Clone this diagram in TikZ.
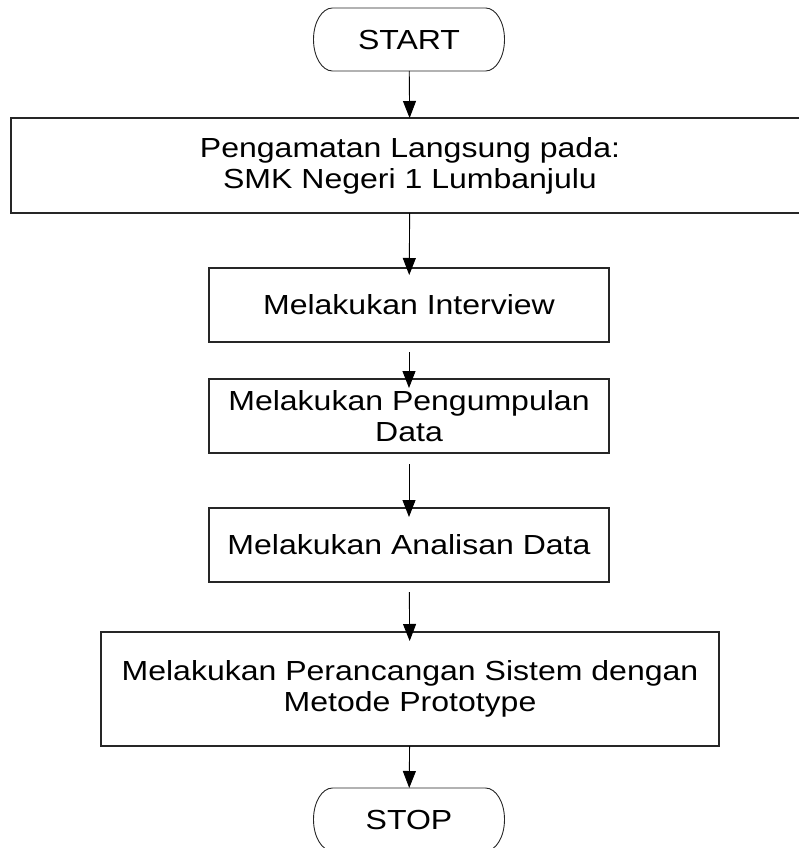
\documentclass[tikz,border=0pt]{standalone}
\usepackage{fontspec}
\setmainfont[FakeStretch=1.16]{Liberation Sans}
\usepackage{tikz}
\usetikzlibrary{arrows.meta}
\usetikzlibrary{calc}
\usetikzlibrary{math}

\begin{document}
\begin{tikzpicture}[x=1pt,y=-1pt,line width=1.2pt,
    box/.style={draw=black!85, rectangle, inner sep=0pt, outer sep=0pt,
      minimum height=74pt, minimum width=400pt, align=center},
    terminal/.style={rectangle, inner sep=0pt, outer sep=0pt,
      minimum width=191pt, minimum height=63pt},
    flow/.style={-{Triangle[length=17pt,width=13pt]}, line width=0.9pt},
    font=\fontsize{27.6}{31}\selectfont]

  \tikzmath{
    \flowx    = 409;   % axis of the flow
    \observew = 798;   % width first box
    \designw  = 618;   % width last box
    \capx     = 19;    % horizontal radius of the terminal ends
    \capy     = 31.5;  % vertical radius of the terminal ends
  }

  \useasboundingbox (0,0) rectangle (799,848);

  % terminals
  \node[terminal] (start) at (\flowx, 39.5) {START};
  \node[terminal] (stop)  at (\flowx, 819.5) {STOP};

  % outline of the terminals, half ellipses at the ends
  \foreach \t in {start,stop}
    \draw[draw=black!85, line width=0.9pt]
      ($ (\t.north west) + (\capx, 0) $) -- ($ (\t.north east) + (-\capx, 0) $)
      arc[start angle=-90, end angle=90, x radius=\capx, y radius=\capy]
      -- ($ (\t.south west) + (\capx, 0) $)
      arc[start angle=90, end angle=270, x radius=\capx, y radius=\capy]
      -- cycle;

  % process boxes
  \node[box, minimum width=\observew, minimum height=95pt] (observe) at (410, 165.5)
    {Pengamatan Langsung pada:\\SMK Negeri 1 Lumbanjulu};
  \node[box] (interview) at (\flowx, 305) {Melakukan Interview};
  \node[box] (collect)   at (\flowx, 416) {Melakukan Pengumpulan\\Data};
  \node[box] (analyse)   at (\flowx, 545) {Melakukan Analisan Data};
  \node[box, minimum width=\designw, minimum height=114pt] (design) at (410, 689)
    {Melakukan Perancangan Sistem dengan\\Metode Prototype};

  % connectors
  \draw[flow] (start) -- (observe);
  \draw[flow, shorten >=-7pt] (observe) -- (interview);
  \draw[flow, shorten <=10pt, shorten >=-9pt] (interview) -- (collect);
  \draw[flow, shorten <=11pt, shorten >=-9pt] (collect) -- (analyse);
  \draw[flow, shorten <=10pt, shorten >=-9pt] (analyse) -- (design);
  \draw[flow] (design) -- (stop);

\end{tikzpicture}
\end{document}
